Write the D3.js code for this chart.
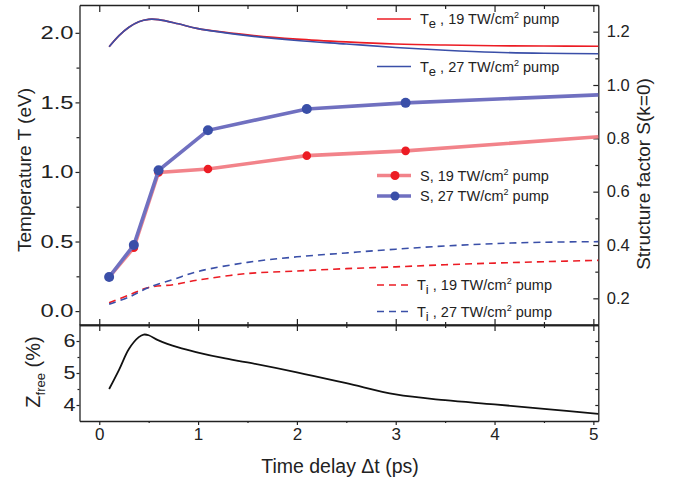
<!DOCTYPE html>
<html>
<head>
<meta charset="utf-8">
<script src="https://cdn.jsdelivr.net/npm/d3@7"></script>
<style>
  body { margin: 0; background: #fff; }
  svg { font-family: Arial, "Liberation Sans", sans-serif; }
  .domain { stroke: #222; stroke-width: 1.3; }
  .tick line { stroke: #222; stroke-width: 1.2; }
</style>
</head>
<body>
<svg id="chart" width="690" height="483"></svg>
<script>
// Te curves (left axis, eV)
const timeTe = [0.1, 0.2, 0.3, 0.4, 0.5, 0.6, 0.8, 1.0, 1.5, 2.0, 2.5, 3.0, 3.5, 4.0, 4.5, 5.05];
const te19 = [1.90, 1.98, 2.04, 2.08, 2.097, 2.095, 2.065, 2.03, 1.985, 1.955, 1.935, 1.92, 1.912, 1.907, 1.905, 1.904];
const te27 = [1.90, 1.98, 2.04, 2.08, 2.097, 2.095, 2.065, 2.03, 1.98, 1.945, 1.92, 1.895, 1.875, 1.86, 1.853, 1.85];

// Ti curves (left axis, eV)
const timeTi = [0.1, 0.3, 0.5, 0.75, 1.0, 1.5, 2.0, 2.5, 3.0, 3.5, 4.0, 4.5, 5.05];
const ti19 = [0.06, 0.115, 0.17, 0.19, 0.223, 0.27, 0.288, 0.305, 0.318, 0.333, 0.345, 0.355, 0.365];
const ti27 = [0.05, 0.10, 0.17, 0.228, 0.285, 0.35, 0.39, 0.418, 0.445, 0.468, 0.485, 0.495, 0.499];

// structure factor (right axis), last point is the line end only
const timeS = [0.1, 0.35, 0.6, 1.1, 2.1, 3.1, 5.05];
const s19 = [0.28, 0.39, 0.672, 0.685, 0.735, 0.753, 0.806];
const s27 = [0.28, 0.40, 0.68, 0.83, 0.91, 0.933, 0.963];
const nMarkers = 6;

// Z free (bottom panel, %)
const timeZ = [0.1, 0.2, 0.3, 0.4, 0.45, 0.5, 0.6, 0.8, 1.0, 1.25, 1.5, 2.0, 2.5, 3.0, 3.5, 4.0, 4.5, 5.05];
const zFree = [4.5, 5.1, 5.75, 6.12, 6.2, 6.18, 6.02, 5.8, 5.64, 5.47, 5.33, 5.02, 4.68, 4.33, 4.15, 4.02, 3.88, 3.72];

const xTicks = [0, 1, 2, 3, 4, 5];
const xMinor = [0.5, 1.5, 2.5, 3.5, 4.5];
const tTicks = [0, 0.5, 1.0, 1.5, 2.0];
const tMinor = [0.25, 0.75, 1.25, 1.75];
const sTicks = [0.2, 0.4, 0.6, 0.8, 1.0, 1.2];
const sMinor = [0.3, 0.5, 0.7, 0.9, 1.1];
const zTicks = [4, 5, 6];
const zMinor = [4.5, 5.5];

const RED = "#ec1c24";
const BLUE = "#3a4fa8";

const svg = d3.select("#chart");
const left = 79.5, right = 598.3;
const topY = 5, midY = 325, botY = 421;

const x = d3.scaleLinear().domain([-0.2, 5.05]).range([left, right]);
const yT = d3.scaleLinear().domain([-0.1, 2.2]).range([midY, topY]);
const yS = d3.scaleLinear().domain([0.1, 1.3]).range([midY, topY]);
const yZ = d3.scaleLinear().domain([3.5, 6.5]).range([botY, midY]);

function zip(xs, ys) {
  return xs.map((v, i) => [v, ys[i]]);
}

function drawAxis(axisFn, scale, major, minor, tx, ty, majLen, minLen, fmt) {
  const gMin = svg.append("g").attr("transform", `translate(${tx},${ty})`)
    .call(axisFn(scale).tickValues(minor).tickSize(minLen).tickFormat(""));
  gMin.select(".domain").remove();
  const g = svg.append("g").attr("transform", `translate(${tx},${ty})`)
    .call(axisFn(scale).tickValues(major).tickSize(majLen).tickSizeOuter(0).tickFormat(fmt || ""));
  return g;
}

// ----- top panel axes
drawAxis(d3.axisTop, x, xTicks, xMinor, 0, topY, -7, -4);
drawAxis(d3.axisBottom, x, xTicks, xMinor, 0, midY, -6, -3);
const gTl = drawAxis(d3.axisLeft, yT, tTicks, tMinor, left, 0, 4, 3, d3.format(".1f"));
// the left labels are drawn wide in the original
gTl.selectAll("text")
  .attr("x", -6)
  .style("font-size", "18px")
  .attr("textLength", 33)
  .attr("lengthAdjust", "spacingAndGlyphs")
  .attr("fill", "#222");
const gSr = drawAxis(d3.axisRight, yS, sTicks, sMinor, right, 0, -5, -3, d3.format(".1f"));
gSr.selectAll("text")
  .attr("x", 8.5)
  .style("font-size", "16.5px")
  .attr("fill", "#222");

// ----- bottom panel axes
drawAxis(d3.axisTop, x, xTicks, xMinor, 0, midY, -6, -3);
const gXb = drawAxis(d3.axisBottom, x, xTicks, xMinor, 0, botY, 4, 2, d3.format("d"));
gXb.selectAll("text")
  .attr("y", 7)
  .attr("dy", "0.71em")
  .style("font-size", "17px")
  .attr("fill", "#222");
const gZl = drawAxis(d3.axisLeft, yZ, zTicks, zMinor, left, 0, 3, 2, d3.format("d"));
gZl.selectAll("text")
  .attr("x", -4)
  .style("font-size", "18px")
  .attr("textLength", 12)
  .attr("lengthAdjust", "spacingAndGlyphs")
  .attr("fill", "#222");
drawAxis(d3.axisRight, yZ, zTicks, zMinor, right, 0, -3, -3);

svg.append("line").attr("x1", left).attr("x2", right).attr("y1", midY).attr("y2", midY)
  .attr("stroke", "#222").attr("stroke-width", 1.3);

// ----- data lines
const lineT = d3.line().x(d => x(d[0])).y(d => yT(d[1])).curve(d3.curveCatmullRom);
const lineS = d3.line().x(d => x(d[0])).y(d => yS(d[1]));
const lineZ = d3.line().x(d => x(d[0])).y(d => yZ(d[1])).curve(d3.curveCatmullRom);

// S lines first (thick, light)
[[s19, "#f2838a", RED, 4.3], [s27, "#7070c0", BLUE, 5]].forEach(([vals, lc, mc, r]) => {
  const pts = zip(timeS, vals);
  svg.append("path").datum(pts)
    .attr("d", lineS).attr("fill", "none")
    .attr("stroke", lc).attr("stroke-width", 3.6);
  svg.selectAll(null).data(pts.slice(0, nMarkers)).enter().append("circle")
    .attr("cx", d => x(d[0])).attr("cy", d => yS(d[1]))
    .attr("r", r).attr("fill", mc);
});

svg.append("path").datum(zip(timeTe, te19))
  .attr("d", lineT).attr("fill", "none").attr("stroke", RED).attr("stroke-width", 1.6);
svg.append("path").datum(zip(timeTe, te27))
  .attr("d", lineT).attr("fill", "none").attr("stroke", BLUE).attr("stroke-width", 1.6);

svg.append("path").datum(zip(timeTi, ti19))
  .attr("d", lineT).attr("fill", "none").attr("stroke", RED).attr("stroke-width", 1.6)
  .attr("stroke-dasharray", "7,5");
svg.append("path").datum(zip(timeTi, ti27))
  .attr("d", lineT).attr("fill", "none").attr("stroke", BLUE).attr("stroke-width", 1.6)
  .attr("stroke-dasharray", "7,5");

svg.append("path").datum(zip(timeZ, zFree))
  .attr("d", lineZ).attr("fill", "none").attr("stroke", "#111").attr("stroke-width", 1.8);

// ----- legends
function legendText(x0, y0, lead, sub, rest) {
  const t = svg.append("text").attr("x", x0).attr("y", y0)
    .style("font-size", "14.5px").attr("fill", "#222");
  t.append("tspan").text(lead);
  if (sub) t.append("tspan").text(sub).attr("dy", 4).style("font-size", "13px");
  t.append("tspan").text(rest).attr("dy", sub ? -4 : 0);
  t.append("tspan").text("2").attr("dy", -6).style("font-size", "9px");
  t.append("tspan").text(" pump").attr("dy", 6);
}

const legendItems = [
  { y: 19, color: RED, kind: "solid", lead: "T", sub: "e", rest: " , 19 TW/cm" },
  { y: 66.5, color: BLUE, kind: "solid", lead: "T", sub: "e", rest: " , 27 TW/cm" },
  { y: 175.5, color: "#f2838a", mark: RED, kind: "s", lead: "S, 19 TW/cm", sub: null, rest: "" },
  { y: 196, color: "#7070c0", mark: BLUE, kind: "s", lead: "S, 27 TW/cm", sub: null, rest: "" },
  { y: 285, color: RED, kind: "dash", lead: "T", sub: "i", rest: " , 19 TW/cm" },
  { y: 311.5, color: BLUE, kind: "dash", lead: "T", sub: "i", rest: " , 27 TW/cm" }
];

legendItems.forEach(d => {
  const ln = svg.append("line").attr("x1", 377).attr("x2", 411).attr("y1", d.y).attr("y2", d.y)
    .attr("stroke", d.color).attr("stroke-width", d.kind === "s" ? 3.4 : 1.6);
  if (d.kind === "dash") ln.attr("stroke-dasharray", "7,5");
  if (d.kind === "s") {
    svg.append("circle").attr("cx", 395).attr("cy", d.y).attr("r", 4.5).attr("fill", d.mark);
  }
  legendText(d.kind === "dash" ? 417 : 420, d.y + 5, d.lead, d.sub, d.rest);
});

// ----- axis titles
svg.append("text")
  .attr("transform", "translate(31,170) rotate(-90)")
  .attr("text-anchor", "middle")
  .style("font-size", "19px").attr("fill", "#222")
  .text("Temperature T (eV)");

svg.append("text")
  .attr("transform", "translate(650,174) rotate(-90)")
  .attr("text-anchor", "middle")
  .style("font-size", "19px").attr("fill", "#222")
  .text("Structure factor S(k=0)");

const zl = svg.append("text")
  .attr("transform", "translate(40,372) rotate(-90)")
  .attr("text-anchor", "middle")
  .style("font-size", "20px").attr("fill", "#222");
zl.append("tspan").text("Z");
zl.append("tspan").text("free").attr("dy", 5).style("font-size", "13px");
zl.append("tspan").text(" (%)").attr("dy", -5);

svg.append("text")
  .attr("x", 340).attr("y", 473)
  .attr("text-anchor", "middle")
  .style("font-size", "19.5px").attr("fill", "#222")
  .text("Time delay \u0394t (ps)");
</script>
</body>
</html>
